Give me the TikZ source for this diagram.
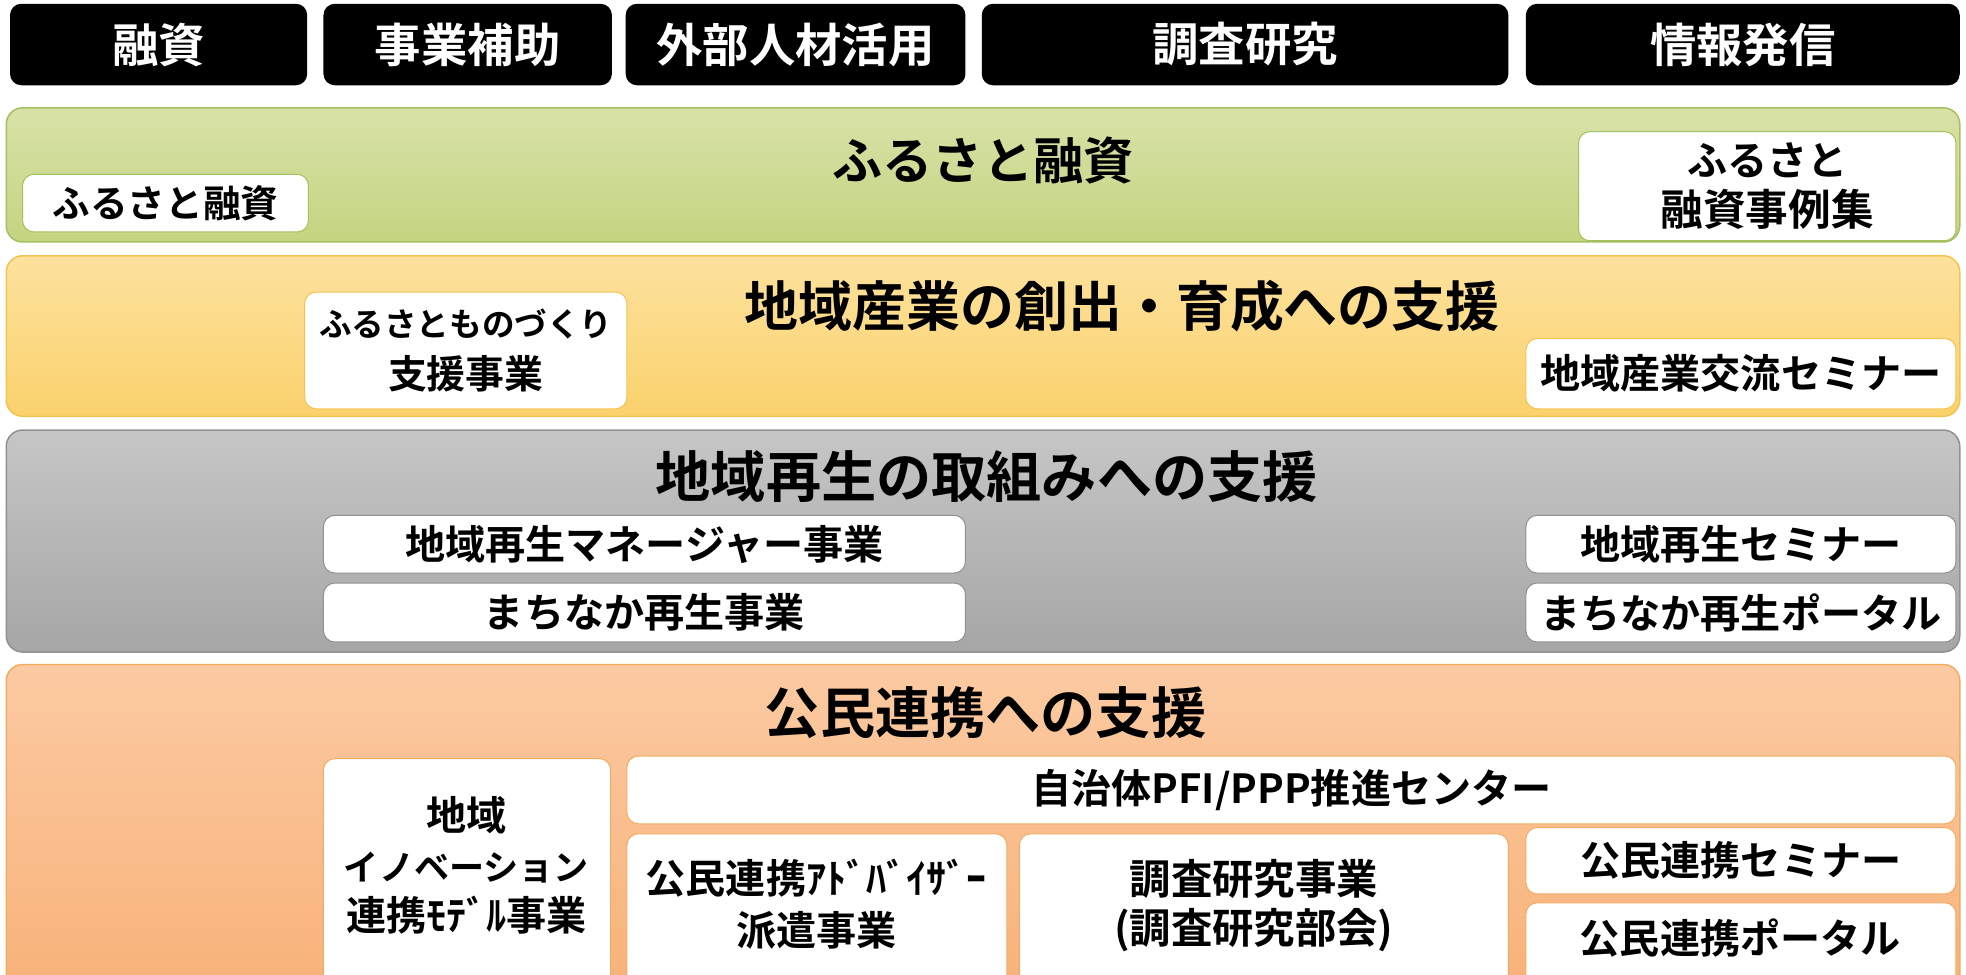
\documentclass[tikz,border=0pt]{standalone}
\usepackage{fontspec}
\setmainfont{Noto Sans CJK JP}[BoldFont={Noto Sans CJK JP Bold}]
\definecolor{gTop}{RGB}{216,226,168}
\definecolor{gBot}{RGB}{196,212,128}
\definecolor{gLine}{RGB}{165,192,95}
\definecolor{yTop}{RGB}{253,226,158}
\definecolor{yBot}{RGB}{250,209,108}
\definecolor{yLine}{RGB}{244,196,82}
\definecolor{kTop}{RGB}{198,198,198}
\definecolor{kBot}{RGB}{166,166,166}
\definecolor{kLine}{RGB}{145,145,145}
\definecolor{oTop}{RGB}{251,202,162}
\definecolor{oBot}{RGB}{248,176,118}
\definecolor{oLine}{RGB}{242,172,98}
\newcommand\bx[7]{%
  \node[#6, minimum width={(#4)-(#2)}, minimum height={(#5)-(#3)}] (#1) at ({((#2)+(#4))/2},{((#3)+(#5))/2}) {#7};}
\newcommand\fs[2]{\fontsize{#1}{#2}\selectfont}
\begin{document}
\begin{tikzpicture}[x=1pt,y=-1pt,
  every node/.style={inner sep=0pt, outer sep=0pt, align=center, font=\bfseries},
  blk/.style={rectangle, rounded corners=9pt, fill=black, text=white, font=\bfseries\fs{37}{40}},
  band/.style={rectangle, rounded corners=13pt, line width=1.2pt},
  gband/.style={band, draw=gLine, top color=gTop, bottom color=gBot},
  yband/.style={band, draw=yLine, top color=yTop, bottom color=yBot},
  kband/.style={band, draw=kLine, top color=kTop, bottom color=kBot},
  oband/.style={band, draw=oLine, top color=oTop, bottom color=oBot},
  wbox/.style={rectangle, rounded corners=9pt, fill=white, line width=0.8pt, font=\bfseries\fs{32}{40}},
  ttl/.style={font=\bfseries\fs{44}{48}}
]
\useasboundingbox (0,0) rectangle (1568,777);
\clip (0,0) rectangle (1568,777);
\fill[white] (0,0) rectangle (1568,777);

% top row
\bx{h1}{8}{3}{245}{68}{blk}{融資}
\bx{h2}{258}{3}{488}{68}{blk}{事業補助}
\bx{h3}{499}{3}{770}{68}{blk}{外部人材活用}
\bx{h4}{783}{3}{1203}{68}{blk}{調査研究}
\bx{h5}{1217}{3}{1563}{68}{blk}{情報発信}

% bands
\bx{bg}{5}{86}{1563}{193}{gband}{}
\bx{by}{5}{204}{1563}{332}{yband}{}
\bx{bk}{5}{343}{1563}{520}{kband}{}
\bx{bo}{5}{530}{1563}{810}{oband}{}

% titles
\node[ttl, font=\bfseries\fs{40}{44}] (tg) at (784,128) {ふるさと融資};
\node[ttl, font=\bfseries\fs{43}{48}] (ty) at (895,244) {地域産業の創出・育成への支援};
\node[ttl] (tk) at (787,380) {地域再生の取組みへの支援};
\node[ttl] (to) at (786,568) {公民連携への支援};

% green
\bx{g1}{18}{139}{246}{185}{wbox, draw=gLine, font=\bfseries\fs{30}{36}}{ふるさと融資}
\bx{g2}{1259}{105}{1560}{192}{wbox, draw=gLine}{ふるさと\\\fs{34}{40}融資事例集}

% yellow
\bx{y1}{243}{233}{500}{326}{wbox, draw=yLine, font=\bfseries\fs{26}{41}}{ふるさとものづくり\\\fs{31}{41}支援事業}
\bx{y2}{1217}{270}{1560}{326}{wbox, draw=yLine}{地域産業交流セミナー}

% gray
\bx{k1}{258}{411}{770}{457}{wbox, draw=kLine}{地域再生マネージャー事業}
\bx{k2}{258}{465}{770}{512}{wbox, draw=kLine}{まちなか再生事業}
\bx{k3}{1217}{411}{1560}{457}{wbox, draw=kLine}{地域再生セミナー}
\bx{k4}{1217}{465}{1560}{512}{wbox, draw=kLine}{まちなか再生ポータル}

% orange
\bx{o1}{258}{605}{487}{800}{wbox, draw=oLine}{}
\node[font=\bfseries\fs{32}{40}] (o1t) at (372,690) {地域\\\fs{28}{40}イノベーション\\\fs{32}{40}連携ﾓﾃﾞﾙ事業};
\bx{o2}{500}{603}{1560}{657}{wbox, draw=oLine}{自治体PFI/PPP推進センター}
\bx{o3}{500}{665}{803}{800}{wbox, draw=oLine}{}
\node[font=\bfseries\fs{32}{42}] (o3t) at (651,721) {公民連携ｱﾄﾞﾊﾞｲｻﾞｰ\\派遣事業};
\bx{o4}{813}{665}{1203}{800}{wbox, draw=oLine}{}
\node[font=\bfseries\fs{33}{39}] (o4t) at (1000,722) {調査研究事業\\(調査研究部会)};
\bx{o5}{1217}{660}{1560}{713}{wbox, draw=oLine}{公民連携セミナー}
\bx{o6}{1217}{720}{1560}{800}{wbox, draw=oLine}{}
\node[font=\bfseries\fs{32}{40}] (o6t) at (1388,748) {公民連携ポータル};
\end{tikzpicture}
\end{document}
